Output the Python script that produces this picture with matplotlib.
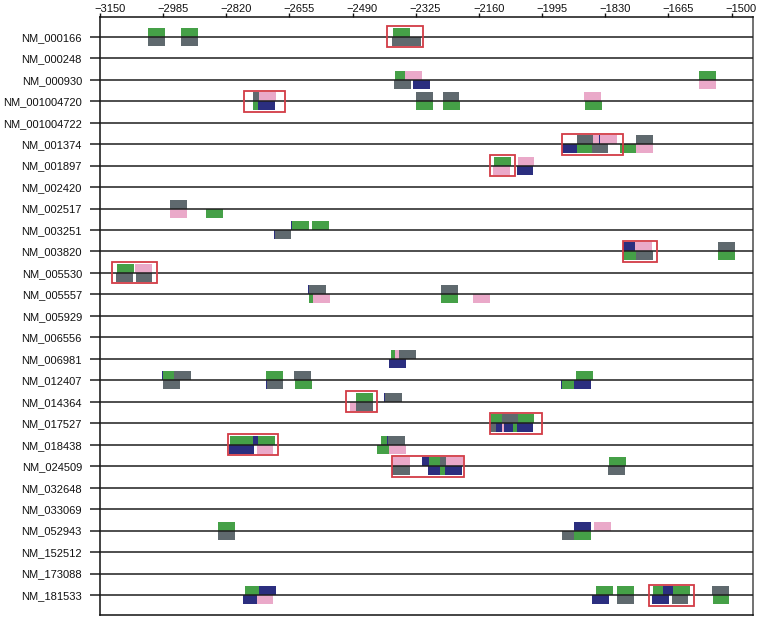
import matplotlib
matplotlib.use('Agg')
import matplotlib.pyplot as plt
from matplotlib.patches import Rectangle
import matplotlib.transforms as mtransforms

plt.rcParams['font.family'] = ['Liberation Sans', 'DejaVu Sans']

genes = ["NM_000166", "NM_000248", "NM_000930", "NM_001004720", "NM_001004722",
         "NM_001374", "NM_001897", "NM_002420", "NM_002517", "NM_003251",
         "NM_003820", "NM_005530", "NM_005557", "NM_005929", "NM_006556",
         "NM_006981", "NM_012407", "NM_014364", "NM_017527", "NM_018438",
         "NM_024509", "NM_032648", "NM_033069", "NM_052943", "NM_152512",
         "NM_173088", "NM_181533"]

x_ticks = list(range(-3150, -1499, 165))

# (row index, start position, site type) -- boxes above the line
upper = [
    (0, -3024, 'g'), (0, -2938, 'g'), (0, -2385, 'g'),
    (2, -2380, 'g'), (2, -2353, 'p'), (2, -1585, 'g'),
    (3, -2750, 'k'), (3, -2734, 'p'), (3, -2325, 'k'), (3, -2255, 'k'), (3, -1885, 'p'),
    (5, -1905, 'k'), (5, -1884, 'n'), (5, -1882, 'k'), (5, -1863, 'p'), (5, -1846, 'n'),
    (5, -1844, 'p'), (5, -1750, 'k'),
    (6, -2122, 'n'), (6, -2120, 'g'), (6, -2059, 'p'),
    (8, -2967, 'k'),
    (9, -2651, 'n'), (9, -2649, 'g'), (9, -2595, 'g'),
    (10, -1783, 'n'), (10, -1752, 'p'), (10, -1535, 'k'),
    (11, -3106, 'g'), (11, -3058, 'p'),
    (12, -2606, 'n'), (12, -2604, 'k'), (12, -2259, 'k'),
    (15, -2391, 'g'), (15, -2380, 'p'), (15, -2369, 'k'),
    (16, -2987, 'n'), (16, -2985, 'g'), (16, -2957, 'k'), (16, -2716, 'g'),
    (16, -2642, 'k'), (16, -1907, 'g'),
    (17, -2480, 'g'), (17, -2407, 'n'), (17, -2405, 'k'),
    (18, -2129, 'g'), (18, -2101, 'k'), (18, -2059, 'g'),
    (19, -2810, 'g'), (19, -2794, 'g'), (19, -2750, 'n'), (19, -2738, 'g'),
    (19, -2416, 'g'), (19, -2399, 'n'), (19, -2397, 'k'),
    (20, -2384, 'p'), (20, -2310, 'n'), (20, -2290, 'g'), (20, -2262, 'k'),
    (20, -2246, 'p'), (20, -1820, 'g'),
    (23, -2841, 'g'), (23, -1911, 'n'), (23, -1859, 'p'),
    (26, -2771, 'g'), (26, -2734, 'n'), (26, -1854, 'g'), (26, -1799, 'g'),
    (26, -1705, 'g'), (26, -1679, 'n'), (26, -1652, 'g'), (26, -1552, 'k'),
]

# boxes below the line
lower = [
    (0, -3024, 'k'), (0, -2938, 'k'), (0, -2387, 'k'), (0, -2356, 'k'),
    (2, -2382, 'k'), (2, -2332, 'n'), (2, -1585, 'p'),
    (3, -2750, 'g'), (3, -2736, 'n'), (3, -2325, 'g'), (3, -2253, 'g'), (3, -1883, 'g'),
    (5, -1944, 'n'), (5, -1905, 'g'), (5, -1866, 'k'), (5, -1792, 'g'), (5, -1750, 'p'),
    (6, -2123, 'p'), (6, -2062, 'n'),
    (8, -2967, 'p'), (8, -2873, 'g'),
    (9, -2696, 'n'), (9, -2694, 'k'),
    (10, -1783, 'g'), (10, -1750, 'k'), (10, -1535, 'g'),
    (11, -3108, 'k'), (11, -3057, 'k'),
    (12, -2603, 'g'), (12, -2593, 'p'), (12, -2258, 'g'), (12, -2175, 'p'),
    (15, -2394, 'n'),
    (16, -2985, 'k'), (16, -2717, 'n'), (16, -2715, 'k'), (16, -2641, 'g'),
    (16, -1945, 'n'), (16, -1944, 'g'), (16, -1912, 'n'),
    (17, -2497, 'p'), (17, -2482, 'k'),
    (18, -2131, 'k'), (18, -2116, 'n'), (18, -2101, 'p'), (18, -2095, 'n'),
    (18, -2071, 'g'), (18, -2062, 'n'),
    (19, -2812, 'n'), (19, -2792, 'n'), (19, -2741, 'p'), (19, -2427, 'g'), (19, -2395, 'p'),
    (20, -2386, 'n'), (20, -2384, 'k'), (20, -2292, 'n'), (20, -2262, 'g'),
    (20, -2249, 'n'), (20, -1824, 'n'), (20, -1822, 'k'),
    (23, -2841, 'k'), (23, -1944, 'k'), (23, -1911, 'g'),
    (26, -2776, 'n'), (26, -2741, 'p'), (26, -1864, 'n'), (26, -1800, 'k'),
    (26, -1707, 'n'), (26, -1657, 'k'), (26, -1550, 'g'),
]

# highlighted clusters: (row index, from, to)
clusters = [
    (0, -2401, -2305), (3, -2774, -2666), (5, -1944, -1785), (6, -2130, -2066),
    (10, -1785, -1694), (11, -3119, -3002), (17, -2507, -2427), (18, -2130, -1996),
    (19, -2816, -2684), (20, -2386, -2198), (26, -1715, -1598),
]

site_colors = {'g': '#45a047', 'k': '#5f696e', 'n': '#2b2e7f', 'p': '#eaa9c9'}
BOX_W = 44
BOX_H = 0.42

fig = plt.figure(figsize=(7.6, 6.19), dpi=100)
ax = fig.add_axes([100 / 760, 4 / 619, 652.7 / 760, 598 / 619])

for side, data in (('up', upper), ('down', lower)):
    for row, start, kind in sorted(data, key=lambda t: (t[0], t[1])):
        base = row - BOX_H if side == 'up' else row
        ax.bar(start, BOX_H, width=BOX_W, bottom=base, align='edge',
               color=site_colors[kind], linewidth=0, zorder=2)

ax.hlines(range(len(genes)), 0, 1, transform=ax.get_yaxis_transform(),
          color='#1e1e1e', lw=1.1, zorder=3)

for row, lo, hi in clusters:
    ax.add_patch(Rectangle((lo, row - 0.49), hi - lo, 0.98, fill=False,
                           edgecolor='#d23b45', lw=1.3, zorder=4))

ax.set_xlim(-3150, -1445)
ax.set_ylim(len(genes) - 1 + 0.93, -0.92)

ax.set_yticks(range(len(genes)))
ax.set_yticklabels(genes)
ax.tick_params(axis='y', length=7.2, width=1.1, pad=5.8, labelsize=8,
               color='#1e1e1e', labelcolor='#111111')

ax.xaxis.tick_top()
ax.set_xticks(x_ticks)
ax.set_xticklabels([])
ax.tick_params(axis='x', length=3, width=1, color='#111111')
off = mtransforms.ScaledTranslation(-6 / 100, 5 / 100, fig.dpi_scale_trans)
tr = mtransforms.blended_transform_factory(ax.transData, ax.transAxes) + off
for v in x_ticks:
    ax.text(v, 1, '\u2212' + str(abs(v)), transform=tr, ha='left', va='baseline',
            fontsize=8, color='#111111')

for s in ('left', 'top', 'bottom'):
    ax.spines[s].set_color('#111111')
    ax.spines[s].set_linewidth(1.1)
ax.spines['right'].set_color('#666666')
ax.spines['right'].set_linewidth(1.3)

fig.savefig('out.png', dpi=100)
